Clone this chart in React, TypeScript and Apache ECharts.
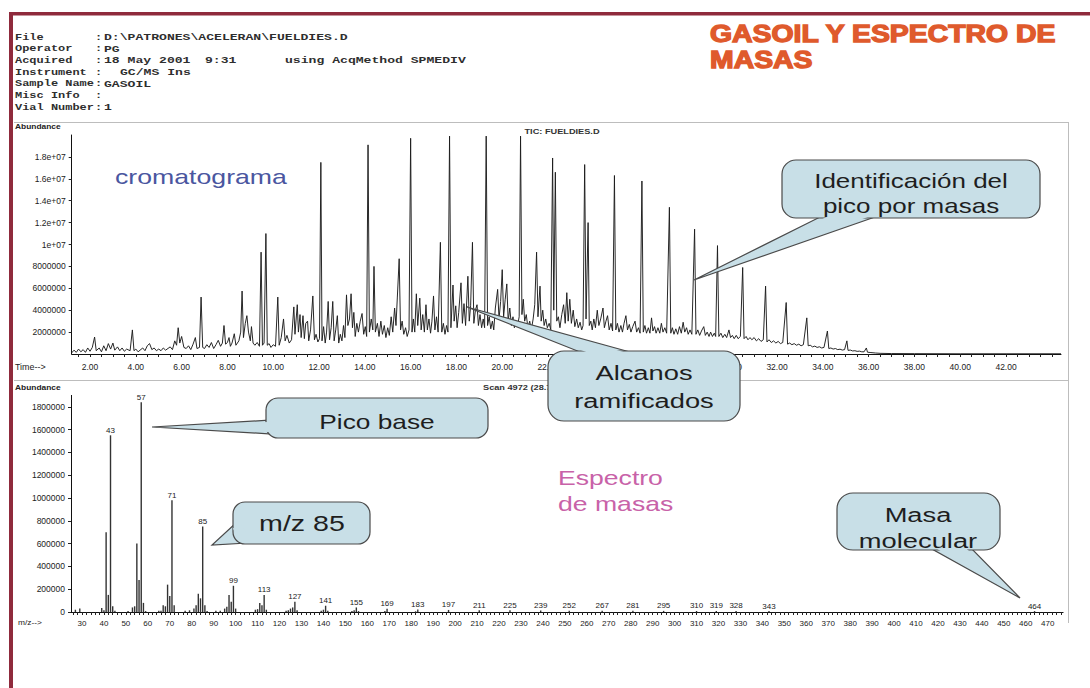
import React, { useEffect, useRef } from "react";
import * as echarts from "echarts";

// ---------- DATA ----------
const headerLabels = ["File", "Operator", "Acquired", "Instrument", "Sample Name", "Misc Info", "Vial Number"];
const headerValues = ["D:\\PATRONES\\ACELERAN\\FUELDIES.D", "PG", "18 May 2001", "GC/MS Ins", "GASOIL", "", "1"];

const chromTimeLabels = [2, 4, 6, 8, 10, 12, 14, 16, 18, 20, 22, 24, 26, 28, 30, 32, 34, 36, 38, 40, 42];
const chromYTicks = [2000000, 4000000, 6000000, 8000000, 10000000, 12000000, 14000000, 16000000, 18000000];
const chromYLabels = ["2000000", "4000000", "6000000", "8000000", "1e+07", "1.2e+07", "1.4e+07", "1.6e+07", "1.8e+07"];

// TIC chromatogram: [time (min), abundance (millions)]
const ticPoints = [
  [1.2,0.1],[1.3,0.35],[1.4,0.15],[1.5,0.45],[1.6,0.2],[1.7,0.4],[1.8,0.15],[1.9,0.55],[2.0,0.25],[2.1,0.6],[2.2,1.55],[2.27,0.3],[2.4,0.55],[2.5,0.2],[2.6,0.75],[2.7,0.3],[2.8,0.95],[2.9,0.45],[3.0,1.0],[3.08,0.35],[3.2,0.65],[3.3,0.3],[3.4,0.55],[3.5,0.25],[3.6,0.45],[3.75,0.3],[3.85,2.2],[3.92,0.3],[4.0,0.45],[4.1,0.2],[4.3,0.55],[4.4,0.3],[4.5,0.75],[4.6,0.95],[4.7,0.4],[4.8,0.55],[4.9,0.3],[5.0,0.45],[5.1,0.3],[5.2,0.55],[5.3,0.35],[5.5,0.65],[5.6,0.4],[5.7,1.2],[5.78,0.8],[5.85,2.4],[5.92,1.0],[6.0,1.6],[6.1,0.6],[6.2,0.5],[6.3,0.75],[6.4,0.4],[6.5,0.9],[6.6,1.5],[6.67,0.5],[6.78,0.6],[6.85,5.2],[6.92,0.6],[7.0,0.5],[7.1,0.85],[7.2,0.6],[7.3,1.05],[7.4,0.5],[7.5,0.85],[7.6,1.25],[7.7,0.7],[7.78,1.0],[7.85,2.6],[7.92,0.9],[8.0,1.05],[8.07,1.5],[8.13,0.7],[8.2,1.0],[8.3,1.85],[8.37,0.8],[8.5,1.2],[8.58,2.0],[8.64,5.75],[8.7,1.5],[8.78,2.8],[8.85,3.5],[8.92,2.0],[9.0,1.2],[9.05,2.5],[9.12,1.0],[9.2,0.8],[9.3,1.05],[9.4,0.7],[9.47,9.3],[9.53,0.8],[9.6,1.0],[9.68,11.0],[9.74,0.8],[9.82,0.95],[9.9,0.6],[10.0,0.85],[10.1,0.7],[10.2,5.2],[10.26,0.8],[10.35,1.5],[10.45,3.2],[10.52,1.2],[10.6,1.7],[10.7,1.0],[10.8,1.3],
  [10.9,4.3],[10.95,1.8],[11.05,4.5],[11.1,2.0],[11.17,3.6],[11.22,1.5],[11.3,3.5],[11.36,1.4],[11.42,2.8],[11.5,3.0],[11.55,1.2],[11.63,2.2],[11.73,5.3],[11.8,1.3],[11.87,1.8],[11.95,1.1],[12.02,1.4],[12.08,17.5],[12.13,1.2],[12.2,2.5],[12.27,1.0],[12.33,2.0],[12.4,4.8],[12.46,1.3],[12.53,2.4],[12.6,4.8],[12.66,1.2],[12.73,2.2],[12.8,3.5],[12.86,1.0],[12.93,1.8],[13.0,1.2],[13.07,2.6],[13.13,1.5],[13.2,5.4],[13.26,2.6],[13.33,3.2],[13.4,5.5],[13.46,2.4],[13.52,3.8],[13.58,1.6],[13.65,2.8],[13.72,2.0],[13.8,3.0],[13.88,3.7],[13.95,1.8],[14.02,2.5],[14.08,1.6],[14.14,19.1],[14.2,2.0],[14.28,3.2],[14.35,2.2],[14.4,8.0],[14.46,2.0],
  [14.55,2.8],[14.62,1.6],[14.7,3.0],[14.77,1.8],[14.85,2.6],[14.92,1.5],[15.0,2.4],[15.07,1.7],[15.15,3.4],[15.22,2.0],[15.3,4.2],[15.36,2.6],[15.42,5.2],[15.5,8.7],[15.56,2.2],[15.63,3.0],[15.7,1.8],[15.78,2.4],[15.85,1.6],[15.93,2.2],[16.0,19.7],[16.06,2.0],[16.12,3.2],[16.18,2.0],[16.25,5.5],[16.31,2.6],[16.4,5.1],[16.46,2.2],[16.53,3.6],[16.6,2.0],[16.67,4.5],[16.73,2.2],[16.8,3.2],[16.87,1.9],[16.93,3.0],[17.0,5.3],[17.06,2.2],[17.13,3.4],[17.2,2.0],[17.3,10.2],[17.36,2.0],[17.43,2.8],[17.5,1.8],[17.57,2.6],[17.63,2.0],[17.7,19.9],[17.76,2.4],[17.85,6.3],[17.9,3.0],[17.97,4.4],[18.03,2.4],[18.1,3.8],[18.2,6.5],[18.26,2.8],[18.33,4.6],[18.4,2.6],[18.5,7.1],[18.56,3.0],[18.62,4.4],[18.7,10.2],[18.76,2.8],[18.83,4.0],[18.9,4.5],[18.96,2.6],[19.03,3.6],[19.1,2.4],[19.17,3.2],[19.23,2.4],[19.3,19.9],[19.36,2.6],[19.43,3.4],[19.5,2.3],[19.57,3.0],[19.63,2.2],[19.7,4.2],[19.8,5.9],[19.86,3.2],[19.93,4.8],[20.0,7.7],[20.06,3.4],[20.13,5.0],[20.2,6.4],[20.26,3.0],[20.33,4.2],[20.4,2.6],[20.47,3.4],[20.53,2.4],[20.6,3.0],[20.67,2.6],[20.74,3.4],[20.8,19.9],[20.86,3.6],[20.92,5.0],[20.98,3.0],[21.05,3.6],[21.12,2.4],[21.2,3.0],[21.27,2.2],[21.35,3.2],[21.42,4.5],[21.5,9.3],[21.56,3.4],[21.65,6.2],[21.7,3.0],[21.77,4.0],[21.83,2.6],[21.9,3.2],[21.97,2.4],[22.05,2.8],[22.12,2.2],[22.2,17.9],[22.25,4.0],[22.32,16.6],[22.38,3.0],[22.45,3.4],[22.52,2.4],[22.6,3.6],[22.68,4.5],[22.75,2.8],[22.82,5.6],[22.88,3.0],[22.95,5.0],[23.02,2.8],[23.1,4.0],[23.17,2.5],[23.25,3.2],[23.32,2.4],[23.4,2.9],[23.47,2.2],[23.53,2.6],[23.6,17.3],[23.66,3.2],[23.75,12.0],[23.8,2.6],[23.87,3.0],[23.93,2.2],[24.0,3.2],[24.07,2.4],[24.15,4.0],[24.22,2.6],[24.3,3.2],[24.4,4.2],[24.46,2.4],[24.53,3.0],[24.6,3.5],[24.67,2.2],[24.75,2.8],[24.82,2.1],[24.9,16.3],[24.96,2.2],[25.03,2.8],[25.1,2.0],[25.18,2.6],[25.25,2.0],[25.32,2.8],[25.4,3.5],[25.47,2.2],[25.55,2.7],[25.62,2.0],[25.7,2.5],[25.8,3.0],[25.87,2.0],[25.95,2.4],[26.02,1.9],[26.1,15.8],[26.16,2.0],[26.23,2.6],[26.3,1.9],[26.38,2.4],
  [26.45,1.9],[26.52,3.3],[26.58,2.1],[26.65,2.5],[26.72,1.9],[26.8,2.4],[26.88,1.9],[26.95,2.8],[27.02,2.0],[27.1,2.4],[27.18,1.9],[27.3,13.4],[27.36,1.9],[27.43,2.4],[27.5,1.8],[27.58,2.3],[27.66,1.8],[27.74,2.5],[27.82,1.9],[27.9,2.9],[27.97,2.0],[28.05,2.4],[28.12,1.8],[28.2,2.2],[28.28,1.8],[28.4,11.4],[28.46,1.8],[28.54,2.2],[28.62,1.7],[28.7,2.1],[28.8,2.5],[28.87,1.7],[28.95,2.0],[29.03,1.6],[29.1,2.0],[29.18,1.6],[29.26,1.9],[29.32,1.6],[29.4,9.9],[29.46,1.6],[29.55,1.9],[29.63,1.5],[29.72,1.8],[29.8,1.5],[29.9,2.2],[29.97,1.5],[30.05,1.7],[30.13,1.4],[30.22,1.7],[30.3,1.4],[30.4,1.6],[30.5,7.9],[30.56,1.4],[30.65,1.6],[30.73,1.3],[30.82,1.5],[30.9,1.3],[31.0,1.5],[31.1,1.2],[31.2,1.4],[31.3,1.15],[31.4,1.3],[31.5,6.2],[31.56,1.1],[31.65,1.3],[31.75,1.05],[31.85,1.2],[31.95,1.0],[32.05,1.15],[32.15,0.95],[32.25,1.05],[32.4,4.7],[32.46,0.9],[32.55,1.0],[32.65,0.85],[32.75,0.95],[32.85,0.8],[32.95,0.9],[33.05,0.75],[33.15,0.85],[33.3,3.3],[33.36,0.75],[33.45,0.8],[33.55,0.65],[33.65,0.72],[33.75,0.6],[33.85,0.66],[33.95,0.55],[34.05,0.6],[34.2,2.1],[34.26,0.5],[34.35,0.55],[34.45,0.45],[34.55,0.5],[34.65,0.4],[34.75,0.44],[34.85,0.36],[34.95,0.4],[35.05,1.2],[35.1,0.33],[35.2,0.36],[35.3,0.28],[35.4,0.3],[35.5,0.24],[35.6,0.26],[35.7,0.2],[35.8,0.2],[35.9,0.55],[35.95,0.16],[36.1,0.13],[36.3,0.09],[36.5,0.06],[37.0,0.04],[38.0,0.03],[40.0,0.02],[42.0,0.02],[44.4,0.02],
];

// Mass spectrum (scan 4972)
const msMz = [27, 29, 39, 40, 41, 42, 43, 44, 45, 51, 53, 54, 55, 56, 57, 58, 59, 65, 66, 67, 68, 69, 70, 71, 72, 77, 79, 81, 82, 83, 84, 85, 86, 87, 91, 93, 95, 96, 97, 98, 99, 100, 109, 110, 111, 112, 113, 114, 123, 124, 125, 126, 127, 128, 139, 140, 141, 142, 153, 154, 155, 156, 168, 169, 182, 183, 197, 211, 225, 239, 252, 267, 281, 295, 310, 319, 328, 343, 464];
const msAbund = [20000, 30000, 35000, 15000, 700000, 150000, 1550000, 50000, 10000, 8000, 40000, 50000, 600000, 280000, 1840000, 80000, 8000, 10000, 12000, 60000, 50000, 240000, 140000, 980000, 60000, 10000, 15000, 30000, 60000, 160000, 120000, 750000, 60000, 8000, 10000, 12000, 30000, 45000, 150000, 90000, 230000, 30000, 20000, 25000, 80000, 60000, 150000, 20000, 10000, 15000, 30000, 40000, 90000, 15000, 12000, 20000, 55000, 10000, 8000, 15000, 40000, 8000, 8000, 28000, 6000, 22000, 18000, 16000, 15000, 13000, 12000, 11000, 10000, 10000, 9000, 9000, 9000, 8000, 8000];
const msLabeled = [43, 57, 71, 85, 99, 113, 127, 141, 155, 169, 183, 197, 211, 225, 239, 252, 267, 281, 295, 310, 319, 328, 343, 464];
const msTickLabels = [30, 40, 50, 60, 70, 80, 90, 100, 110, 120, 130, 140, 150, 160, 170, 180, 190, 200, 210, 220, 230, 240, 250, 260, 270, 280, 290, 300, 310, 320, 330, 340, 350, 360, 370, 380, 390, 400, 410, 420, 430, 440, 450, 460, 470];
const msYTicks = [0, 200000, 400000, 600000, 800000, 1000000, 1200000, 1400000, 1600000, 1800000];

// ---------- STYLE HELPERS ----------
const SANS = "Liberation Sans, Arial, sans-serif";
const MONO = "Liberation Mono, Courier New, monospace";
const BUB_FILL = "#c8dfe7";
const BUB_EDGE = "#4a4a4a";
const LABEL_INK = "#222222";

function txt(x: number, y: number, text: string, o: any = {}) {
  return {
    type: "text",
    x,
    y,
    scaleX: o.sx ?? 1,
    z: o.z ?? 20,
    silent: true,
    style: {
      text,
      fill: o.fill ?? "#222",
      fontSize: o.size ?? 12,
      fontFamily: o.font ?? SANS,
      fontWeight: o.weight ?? "normal",
      textAlign: o.align ?? "left",
      align: o.align ?? "left",
      textVerticalAlign: "middle",
      verticalAlign: "middle",
      stroke: o.stroke,
      lineWidth: o.lw ?? 0,
    },
  };
}

function callout(box: number[], ptr: number[][], lines: string[], ys: number[], size: number, sx: number, cx: number) {
  const [bx, by, bw, bh, r] = box;
  const [b1, b2, c] = ptr;
  const mx = (b1[0] + b2[0]) / 2, my = (b1[1] + b2[1]) / 2;
  let dx = mx - c[0], dy = my - c[1];
  const L = Math.hypot(dx, dy);
  dx /= L; dy /= L;
  const s = 0.12;
  const q1 = [b1[0] + (b2[0] - b1[0]) * s, b1[1] + (b2[1] - b1[1]) * s];
  const q2 = [b2[0] + (b1[0] - b2[0]) * s, b2[1] + (b1[1] - b2[1]) * s];
  const lerp = (p: number[], t: number) => [p[0] + (c[0] - p[0]) * t, p[1] + (c[1] - p[1]) * t];
  const cover = [[q1[0] + dx * 3, q1[1] + dy * 3], [q2[0] + dx * 3, q2[1] + dy * 3], lerp(q2, 0.2), lerp(q1, 0.2)];
  const els: any[] = [
    { type: "polygon", z: 50, silent: true, shape: { points: ptr }, style: { fill: BUB_FILL, stroke: BUB_EDGE, lineWidth: 1.2 } },
    { type: "rect", z: 51, silent: true, shape: { x: bx, y: by, width: bw, height: bh, r }, style: { fill: BUB_FILL, stroke: BUB_EDGE, lineWidth: 1.2 } },
    { type: "polygon", z: 52, silent: true, shape: { points: cover }, style: { fill: BUB_FILL } },
  ];
  lines.forEach((l, i) => els.push(txt(cx, ys[i], l, { size, sx, align: "center", z: 53, fill: "#1e1e1e" })));
  return els;
}

function buildOption() {
  const chromTicks = Array.from({ length: 86 }, (_, i) => 1.5 + i * 0.5);
  const msTicks = Array.from({ length: 226 }, (_, i) => 26 + i * 2);
  const headerYs = [37, 48.7, 60.4, 72.1, 83.8, 95.5, 107.2];
  const hLab = { font: MONO, size: 9.5, sx: 1.26, fill: "#2e2e2e", weight: "bold" };
  const hVal = { font: MONO, size: 9.5, sx: 1.38, fill: "#2e2e2e", weight: "bold" };

  const header: any[] = [];
  headerLabels.forEach((l, i) => {
    const y = headerYs[i];
    header.push(txt(15, y, l, hLab));
    header.push(txt(95, y, ":", hLab));
    const v = headerValues[i];
    if (!v) return;
    const x = l === "Instrument" ? 120 : 104;
    header.push(txt(x, y, v, hVal));
  });
  header.push(txt(205, headerYs[2], "9:31", hVal));
  header.push(txt(285, headerYs[2], "using AcqMethod SPMEDIV", hVal));

  const graphics: any[] = [
    { type: "rect", z: 5, silent: true, shape: { x: 9, y: 12, width: 1081, height: 3.5 }, style: { fill: "#8f2a3c" } },
    { type: "rect", z: 5, silent: true, shape: { x: 9, y: 12, width: 4, height: 676 }, style: { fill: "#8f2a3c" } },
    { type: "line", z: 1, silent: true, shape: { x1: 14, y1: 122.5, x2: 1068, y2: 122.5 }, style: { stroke: "#bdbdbd", lineWidth: 1 } },
    { type: "line", z: 1, silent: true, shape: { x1: 14, y1: 380.5, x2: 1068, y2: 380.5 }, style: { stroke: "#bdbdbd", lineWidth: 1 } },
    { type: "line", z: 1, silent: true, shape: { x1: 1068.5, y1: 122, x2: 1068.5, y2: 623 }, style: { stroke: "#bdbdbd", lineWidth: 1 } },
    ...header,
    txt(710, 34, "GASOIL Y ESPECTRO DE", { size: 23, weight: "bold", sx: 1.235, fill: "#df5a2c", stroke: "#df5a2c", lw: 1.3 }),
    txt(710, 60, "MASAS", { size: 23, weight: "bold", sx: 1.235, fill: "#df5a2c", stroke: "#df5a2c", lw: 1.3 }),
    txt(15, 127, "Abundance", { size: 8, sx: 1.05, fill: "#222", weight: "bold" }),
    txt(562, 131, "TIC: FUELDIES.D", { size: 8, sx: 1.15, weight: "bold", align: "center", fill: "#333" }),
    txt(15, 367, "Time-->", { size: 8.5, sx: 1.05, fill: "#222" }),
    txt(15, 388, "Abundance", { size: 8, sx: 1.05, fill: "#222", weight: "bold" }),
    txt(483, 387, "Scan 4972 (28.735 min): FUELDIES.D", { size: 8, sx: 1.15, weight: "bold", fill: "#333" }),
    txt(18, 623, "m/z-->", { size: 8, sx: 1.05, fill: "#222" }),
    txt(115, 177, "cromatograma", { size: 21, sx: 1.27, fill: "#4a56a0" }),
    txt(558, 478, "Espectro", { size: 20, sx: 1.33, fill: "#c862a8" }),
    txt(558, 504, "de masas", { size: 20, sx: 1.33, fill: "#c862a8" }),
    ...callout([782, 160, 258, 58, 14], [[820, 217], [875, 217], [694, 280]], ["Identificación del", "pico por masas"], [181, 206], 20, 1.3, 911),
    ...callout([548, 351, 192, 70, 16], [[580, 352], [630, 352], [467, 307]], ["Alcanos", "ramificados"], [373, 401], 21, 1.3, 644),
    ...callout([266, 398, 222, 40, 12], [[272, 420], [272, 434], [152, 427]], ["Pico base"], [421], 21, 1.25, 377),
    ...callout([233, 502, 137, 42, 12], [[237, 522], [247, 543], [212, 545]], ["m/z 85"], [523], 22, 1.3, 302),
    ...callout([837, 493, 163, 57, 16], [[932, 549], [972, 549], [1020, 598]], ["Masa", "molecular"], [515, 541], 21, 1.3, 918),
  ];

  const axisLineStyle = { color: "#111", width: 1 };
  const labelCfg = {
    position: "top",
    distance: 1,
    fontSize: 8,
    color: LABEL_INK,
    fontFamily: SANS,
    textBorderWidth: 0,
    formatter: (p: any) => String(p.value[0]),
  };

  return {
    animation: false,
    backgroundColor: "#ffffff",
    color: ["#333333"],
    grid: [
      { left: 71.7, top: 135, width: 989.3, height: 219, containLabel: false, outerBoundsMode: "none" },
      { left: 71, top: 395.4, width: 992.1, height: 216.6, containLabel: false, outerBoundsMode: "none" },
    ],
    xAxis: [
      {
        type: "value", gridIndex: 0, min: 1.2, max: 44.4,
        axisLine: { show: true, onZero: false, lineStyle: axisLineStyle },
        axisTick: { show: true, customValues: chromTicks, length: 3, lineStyle: { color: "#222", width: 1 } },
        axisLabel: { customValues: chromTimeLabels, formatter: (v: number) => v.toFixed(2), fontSize: 8.5, color: "#222", fontFamily: SANS, margin: 8 },
        splitLine: { show: false },
      },
      {
        type: "value", gridIndex: 1, min: 25, max: 477,
        axisLine: { show: true, onZero: false, lineStyle: axisLineStyle },
        axisTick: { show: true, customValues: msTicks, length: 3, lineStyle: { color: "#222", width: 1 } },
        axisLabel: { customValues: msTickLabels, formatter: (v: number) => String(v), fontSize: 8, color: "#222", fontFamily: SANS, margin: 7 },
        splitLine: { show: false },
      },
    ],
    yAxis: [
      {
        type: "value", gridIndex: 0, min: 0, max: 20000000,
        axisLine: { show: true, onZero: false, lineStyle: axisLineStyle },
        axisTick: { show: true, customValues: chromYTicks, length: 3, lineStyle: { color: "#222", width: 1 } },
        axisLabel: {
          customValues: chromYTicks,
          formatter: (v: number) => chromYLabels[chromYTicks.indexOf(v)] ?? "",
          fontSize: 8.5, color: "#222", fontFamily: SANS, margin: 6,
        },
        splitLine: { show: false },
      },
      {
        type: "value", gridIndex: 1, min: 0, max: 1900000,
        axisLine: { show: true, onZero: false, lineStyle: axisLineStyle },
        axisTick: { show: true, customValues: msYTicks, length: 3, lineStyle: { color: "#222", width: 1 } },
        axisLabel: { customValues: msYTicks, formatter: (v: number) => String(v), fontSize: 8.5, color: "#222", fontFamily: SANS, margin: 6 },
        splitLine: { show: false },
      },
    ],
    series: [
      {
        type: "line",
        name: "TIC: FUELDIES.D",
        xAxisIndex: 0,
        yAxisIndex: 0,
        data: ticPoints.map(([t, v]) => [t, v * 1000000]),
        showSymbol: false,
        symbol: "none",
        lineStyle: { color: "#1c1c1c", width: 0.95 },
        z: 3,
      },
      {
        type: "bar",
        name: "Scan 4972",
        xAxisIndex: 1,
        yAxisIndex: 1,
        colorBy: "series",
        barWidth: 1.4,
        data: msMz.map((m, i) => ({
          value: [m, msAbund[i]],
          itemStyle: { color: "#333333" },
          label: { ...labelCfg, show: msLabeled.includes(m) },
        })),
        itemStyle: { color: "#333333" },
        label: labelCfg,
        z: 3,
      },
    ],
    graphic: { elements: graphics },
  };
}

export default function App() {
  const ref = useRef<HTMLDivElement>(null);
  useEffect(() => {
    if (!ref.current) return;
    const chart = echarts.init(ref.current, null, { renderer: "svg" });
    chart.setOption(buildOption() as any);
    return () => chart.dispose();
  }, []);
  return (
    <div
      ref={ref}
      style={{ position: "absolute", left: 0, top: 0, width: 1090, height: 688, background: "#fff" }}
    />
  );
}
